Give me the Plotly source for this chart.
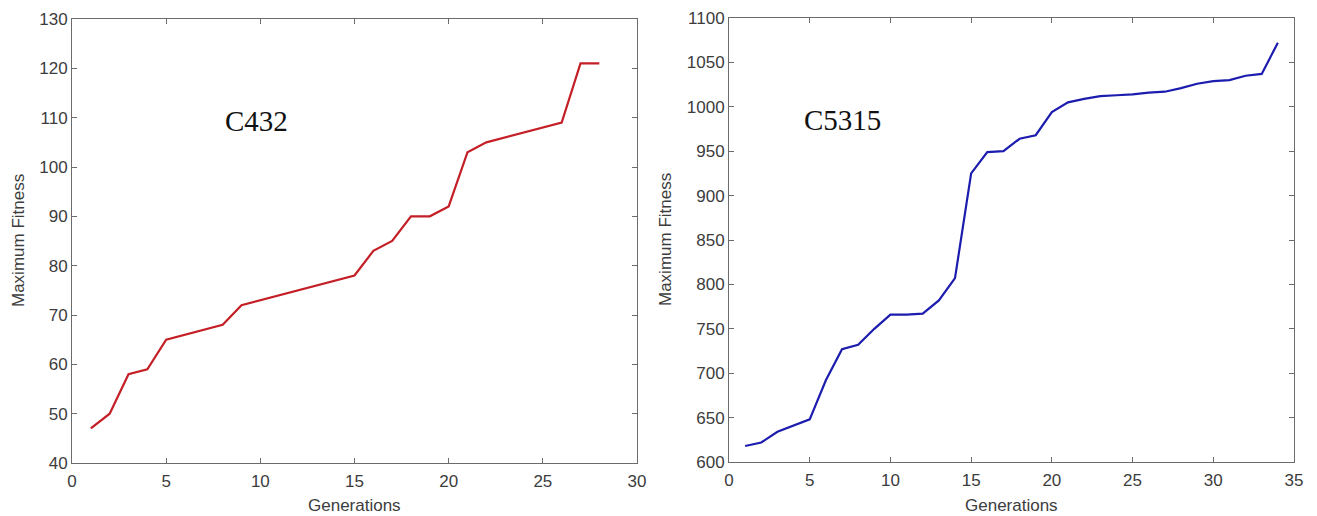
import plotly.graph_objects as go

gen_c432 = list(range(1, 29))
fit_c432 = [47, 50, 58, 59, 65, 66, 67, 68, 72, 73, 74, 75, 76, 77, 78, 83, 85, 90, 90, 92,
            103, 105, 106, 107, 108, 109, 121, 121]

gen_c5315 = list(range(1, 35))
fit_c5315 = [618, 622, 634, 641, 648, 692, 727, 732, 750, 766, 766, 767, 782, 807, 925, 949,
             950, 964, 968, 994, 1005, 1009, 1012, 1013, 1014, 1016, 1017, 1021, 1026, 1029,
             1030, 1035, 1037, 1072]

x_ticks_left = [0, 5, 10, 15, 20, 25, 30]
y_ticks_left = [40, 50, 60, 70, 80, 90, 100, 110, 120, 130]
x_ticks_right = [0, 5, 10, 15, 20, 25, 30, 35]
y_ticks_right = [600, 650, 700, 750, 800, 850, 900, 950, 1000, 1050, 1100]

# page body has an 8px margin, so the figure is offset by 8px
OFF = 8
W, H = 1317 - OFF, 516 - OFF

def px(x):
    return (x - OFF) / W

def py(y):
    return 1 - (y - OFF) / H

fig = go.Figure()
fig.add_trace(go.Scatter(x=gen_c432, y=fit_c432, mode="lines",
                         line=dict(color="#c41f26", width=2.2), xaxis="x", yaxis="y",
                         showlegend=False))
fig.add_trace(go.Scatter(x=gen_c5315, y=fit_c5315, mode="lines",
                         line=dict(color="#1c1cae", width=2.2), xaxis="x2", yaxis="y2",
                         showlegend=False))

axis_common = dict(showline=True, mirror="ticks", linecolor="#6b6b6b", linewidth=1,
                   ticks="inside", ticklen=5, tickcolor="#6b6b6b", showgrid=False,
                   zeroline=False, automargin=False,
                   tickfont=dict(family="Liberation Sans, Arial, sans-serif", size=17,
                                 color="#3c3c3c"))

fig.update_layout(
    width=W, height=H, margin=dict(l=0, r=0, t=0, b=0, autoexpand=False),
    paper_bgcolor="white", plot_bgcolor="white",
    xaxis=dict(domain=[px(72), px(637)], range=[0, 30], tickvals=x_ticks_left,
               anchor="y", ticklabelstandoff=3, **axis_common),
    yaxis=dict(domain=[py(463), py(19)], range=[40, 130], tickvals=y_ticks_left,
               anchor="x", **axis_common),
    xaxis2=dict(domain=[px(729), px(1294)], range=[0, 35], tickvals=x_ticks_right,
                anchor="y2", ticklabelstandoff=3, **axis_common),
    yaxis2=dict(domain=[py(462), py(18)], range=[600, 1100], tickvals=y_ticks_right,
                anchor="x2", **axis_common),
)

title_font = dict(family="Liberation Sans, Arial, sans-serif", size=17, color="#3c3c3c")
ann = [
    dict(text="Maximum Fitness", x=px(18), y=py(241), textangle=-90, font=title_font),
    dict(text="Generations", x=px(354), y=py(505), font=title_font),
    dict(text="Maximum Fitness", x=px(665), y=py(240), textangle=-90, font=title_font),
    dict(text="Generations", x=px(1011), y=py(505), font=title_font),
]
for a in ann:
    fig.add_annotation(xref="paper", yref="paper", showarrow=False,
                       xanchor="center", yanchor="middle", **a)

serif = dict(family="Liberation Serif, Times New Roman, serif", size=29, color="#111111")
fig.add_annotation(text="C432", xref="x", yref="y", x=9.8, y=109.3, showarrow=False,
                   font=serif)
fig.add_annotation(text="C5315", xref="x2", yref="y2", x=7.06, y=985, showarrow=False,
                   font=serif)

fig.write_html("out.html")
